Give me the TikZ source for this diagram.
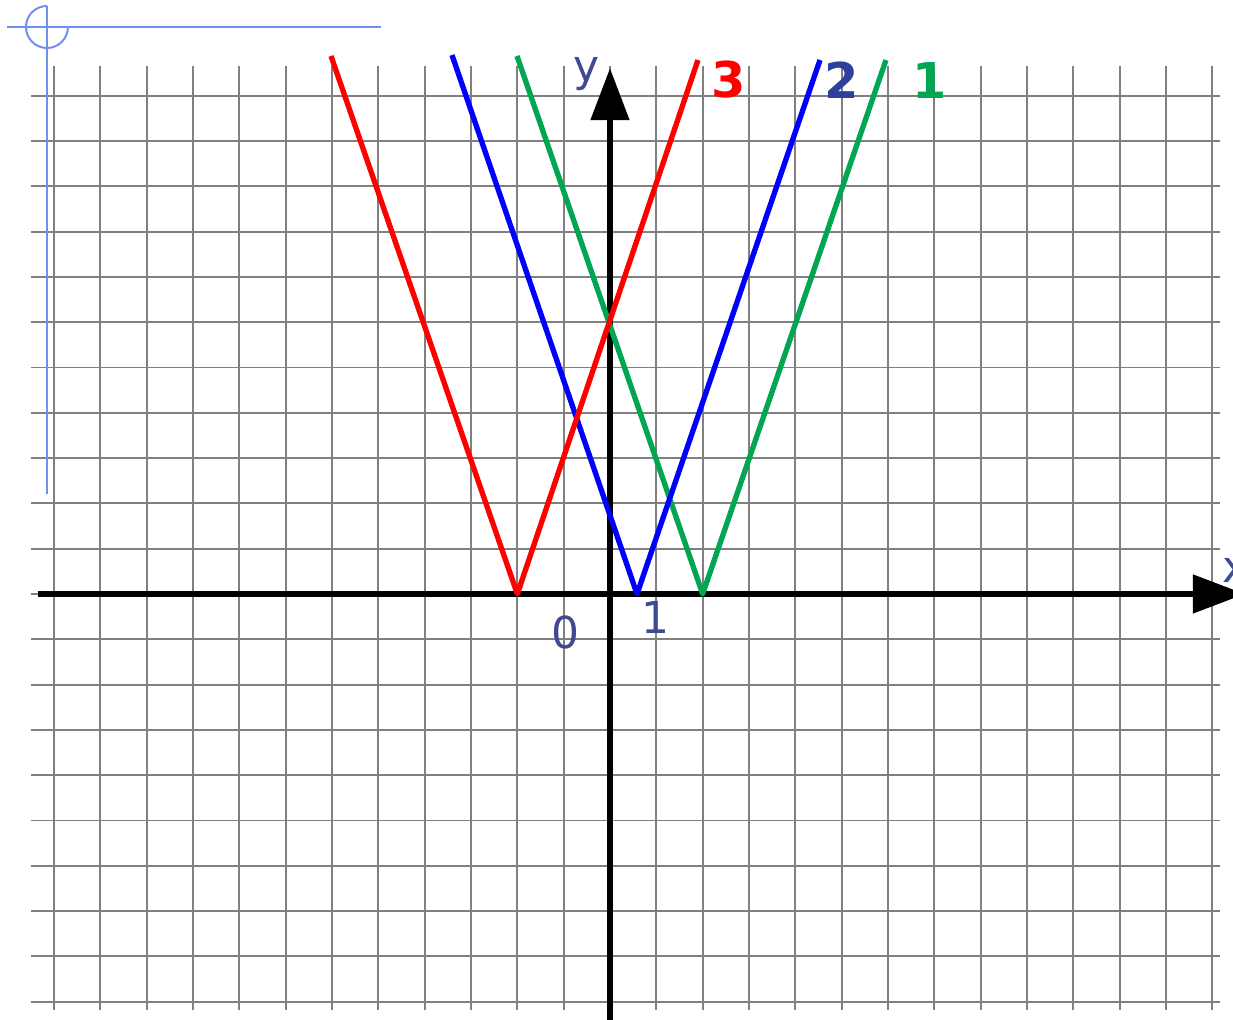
\documentclass[tikz,border=0pt]{standalone}
\usepackage{fontspec}
\setmainfont{DejaVu Sans}
\usetikzlibrary{arrows.meta}
\definecolor{gridgray}{HTML}{808080}
\definecolor{axislabel}{HTML}{3F4A92}
\definecolor{markblue}{HTML}{7090F0}
\definecolor{plotred}{HTML}{FF0000}
\definecolor{plotblue}{HTML}{0000FF}
\definecolor{plotgreen}{HTML}{00A651}
\definecolor{labelblue}{HTML}{2E3F9C}
\tikzset{
    gridline/.style={draw=gridgray,line width=1.4pt},
    axisline/.style={draw=black,line width=5pt,-{Triangle[length=39pt,width=28pt]}},
    graphline/.style={line width=4pt,line join=round},
    axlabel/.style={text=axislabel,font=\fontsize{33}{36}\selectfont,inner sep=0pt},
    numlabel/.style={font=\fontsize{37}{40}\selectfont\bfseries,inner sep=0pt},
    cornermark/.style={draw=markblue,line width=1.5pt}
}
\begin{document}
\begin{tikzpicture}[x=34.75pt,y=33.975pt]
\useasboundingbox (-13.166,-9.404) rectangle (13.447,13.113);
% squared paper
\foreach \i in {-12,...,13}
    \draw[gridline] (\i,-9.18) -- (\i,11.66);
\foreach \j in {-9,...,11}
    \draw[gridline] (-12.5,\j) -- (13.17,\j);
% corner mark
\coordinate (markc) at (-12.152,12.517);
\coordinate (markl) at (-13.015,12.517);
\coordinate (markr) at (-4.943,12.517);
\coordinate (markt) at (-12.152,12.98);
\coordinate (markb) at (-12.152,2.2075);
\draw[cornermark] (markl) -- (markr);
\draw[cornermark] (markt) -- (markb);
\draw[cornermark] (markc) ++(90:15.75pt) arc[start angle=90,end angle=360,radius=15.75pt];
% axes
\coordinate (O) at (0,0);
\coordinate (xmin) at (-12.35,0);
\coordinate (xmax) at (13.705,0);
\coordinate (ymin) at (0,-9.6);
\coordinate (ymax) at (0,11.611);
\draw[axisline] (xmin) -- (xmax);
\draw[axisline] (ymin) -- (ymax);
\node[axlabel] (lx) at (13.5,0.53) {x};
\node[axlabel] (ly) at (-0.497,11.48) {y};
\node[axlabel] (l0) at (-0.971,-0.839) {0};
\node[axlabel] (l1) at (0.993,-0.508) {1};
% graphs
\coordinate (g1a) at (-2.007,11.877);
\coordinate (g1v) at (2,0);
\coordinate (g1b) at (5.957,11.788);
\coordinate (g2a) at (-3.410,11.898);
\coordinate (g2v) at (0.583,0);
\coordinate (g2b) at (4.533,11.788);
\coordinate (g3a) at (-6.022,11.877);
\coordinate (g3v) at (-2,0);
\coordinate (g3b) at (1.899,11.788);
\draw[graphline,plotgreen] (g1a) -- (g1v) -- (g1b);
\draw[graphline,plotblue] (g2a) -- (g2v) -- (g2b);
\draw[graphline,plotred] (g3a) -- (g3v) -- (g3b);
\node[numlabel,text=plotred] (n3) at (2.568,11.346) {3};
\node[numlabel,text=labelblue] (n2) at (5.0,11.346) {2};
\node[numlabel,text=plotgreen] (n1) at (6.907,11.346) {1};
\end{tikzpicture}
\end{document}
